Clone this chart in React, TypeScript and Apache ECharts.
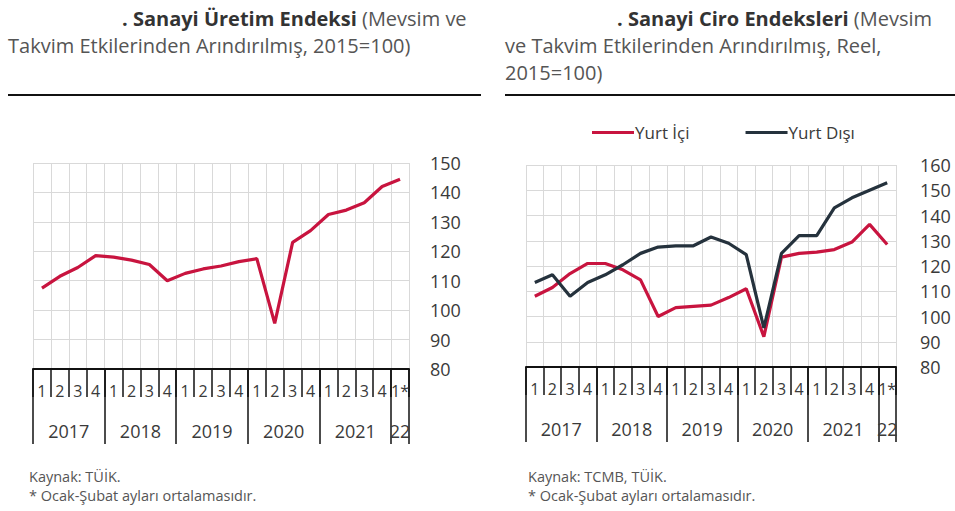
import React, { useEffect, useRef } from "react";
import * as echarts from "echarts";

const quarterLabels = [
  "1", "2", "3", "4",
  "1", "2", "3", "4",
  "1", "2", "3", "4",
  "1", "2", "3", "4",
  "1", "2", "3", "4",
  "1*",
];
const yearLabels = ["2017", "2018", "2019", "2020", "2021", "22"];
const quartersPerYear = [4, 4, 4, 4, 4, 1];

const sanayiUretim = [
  107.5, 111.5, 114.5, 118.5, 118, 117, 115.5, 110, 112.5, 114, 115, 116.5,
  117.5, 95.5, 123, 127, 132.5, 134, 136.5, 142, 144.5,
];
const yurtIci = [
  108, 111.5, 117, 121, 121, 118.5, 114.5, 100, 103.5, 104, 104.5, 107.5, 111,
  92, 123.5, 125, 125.5, 126.5, 129.5, 136.5, 128.5,
];
const yurtDisi = [
  113.5, 116.5, 108, 113.5, 116.5, 120.5, 125, 127.5, 128, 128, 131.5, 129,
  124.5, 95.5, 125, 132, 132, 143, 147, 150, 153,
];

const FONT = '"Open Sans", "Noto Sans", sans-serif';
const RED = "#c8143f";
const DARK = "#25323d";
const TEXT = "#3a3a3a";
const GRID = "#d9d9d9";

// year boundaries and centres derived from quarter counts
const yearBounds: number[] = [0];
quartersPerYear.forEach((q) => yearBounds.push(yearBounds[yearBounds.length - 1] + q));
const yearCentres = quartersPerYear.map((q, i) => yearBounds[i] + q / 2);

function makeAxes(gridIndex: number, yMin: number, yMax: number, labelMargin: number) {
  const xQuarter = {
    type: "category",
    gridIndex,
    data: quarterLabels,
    boundaryGap: true,
    position: "bottom",
    axisLine: { show: true, lineStyle: { color: "#111", width: 2 } },
    axisTick: { show: true, interval: 0, length: 28, lineStyle: { color: "#111", width: 1.5 } },
    axisLabel: { interval: 0, margin: 14, fontSize: 16, fontFamily: FONT, color: TEXT },
    splitLine: { show: true, interval: 0, lineStyle: { color: GRID, width: 1 } },
  };
  const xYear = {
    type: "value",
    gridIndex,
    min: 0,
    max: quarterLabels.length,
    position: "bottom",
    axisLine: { show: false },
    axisTick: {
      show: true,
      customValues: yearBounds,
      length: 75,
      lineStyle: { color: "#111", width: 1.5 },
    },
    axisLabel: {
      show: true,
      customValues: yearCentres,
      margin: 53,
      fontSize: 18,
      fontFamily: FONT,
      color: TEXT,
      formatter: (v: number) => {
        const idx = yearCentres.findIndex((c) => Math.abs(c - v) < 1e-6);
        return idx >= 0 ? yearLabels[idx] : "";
      },
    },
    splitLine: { show: false },
  };
  const y = {
    type: "value",
    gridIndex,
    position: "right",
    min: yMin,
    max: yMax,
    interval: 10,
    axisLine: { show: false },
    axisTick: { show: false },
    axisLabel: { margin: labelMargin, fontSize: 18, fontFamily: FONT, color: TEXT },
    splitLine: { show: true, lineStyle: { color: GRID, width: 1 } },
  };
  return { xQuarter, xYear, y };
}

export default function App() {
  const ref = useRef<HTMLDivElement>(null);
  useEffect(() => {
    if (!ref.current) return;
    const chart = echarts.init(ref.current, null, { renderer: "svg" });
    const a = makeAxes(0, 80, 150, 21);
    const b = makeAxes(1, 80, 160, 24);

    const titleText = (
      text: string,
      x: number,
      y: number,
      rich = true,
      size = 20
    ) => ({
      type: "text",
      x,
      y,
      style: {
        text,
        fill: "#555",
        fontSize: size,
        fontFamily: FONT,
        verticalAlign: "middle",
        rich: rich ? { b: { fontWeight: "bold", fill: "#333", fontSize: size, fontFamily: FONT } } : undefined,
      },
    });

    chart.setOption({
      animation: false,
      backgroundColor: "#fff",
      grid: [
        { left: 33, right: 546, top: 163, bottom: 142 },
        { left: 526, right: 59, top: 165, bottom: 144 },
      ],
      legend: {
        data: ["Yurt İçi", "Yurt Dışı"],
        left: 587,
        top: 119,
        icon: "rect",
        itemWidth: 42,
        itemHeight: 3,
        itemGap: 56,
        textStyle: { fontSize: 17, fontFamily: FONT, color: TEXT, padding: [0, 0, 0, -4] },
      },
      xAxis: [a.xQuarter, a.xYear, b.xQuarter, b.xYear],
      yAxis: [a.y, b.y],
      series: [
        {
          name: "Sanayi Üretim Endeksi",
          type: "line",
          xAxisIndex: 0,
          yAxisIndex: 0,
          data: sanayiUretim,
          symbol: "none",
          lineStyle: { color: RED, width: 3.2 },
          itemStyle: { color: RED },
        },
        {
          name: "Yurt İçi",
          type: "line",
          xAxisIndex: 2,
          yAxisIndex: 1,
          data: yurtIci,
          symbol: "none",
          lineStyle: { color: RED, width: 3.2 },
          itemStyle: { color: RED },
        },
        {
          name: "Yurt Dışı",
          type: "line",
          xAxisIndex: 2,
          yAxisIndex: 1,
          data: yurtDisi,
          symbol: "none",
          lineStyle: { color: DARK, width: 3.2 },
          itemStyle: { color: DARK },
        },
      ],
      graphic: [
        titleText("{b|. Sanayi Üretim Endeksi} (Mevsim ve", 122, 18),
        titleText("Takvim Etkilerinden Arındırılmış, 2015=100)", 8, 45, false),
        titleText("{b|. Sanayi Ciro Endeksleri} (Mevsim", 617, 18),
        titleText("ve Takvim Etkilerinden Arındırılmış, Reel,", 505, 45, false),
        titleText("2015=100)", 505, 72, false),
        { type: "line", shape: { x1: 8, y1: 95, x2: 481, y2: 95 }, style: { stroke: "#111", lineWidth: 2 } },
        { type: "line", shape: { x1: 505, y1: 95, x2: 955, y2: 95 }, style: { stroke: "#111", lineWidth: 2 } },
        titleText("Kaynak: TÜİK.", 29, 476, false, 14.5),
        titleText("* Ocak-Şubat ayları ortalamasıdır.", 29, 495, false, 14.5),
        titleText("Kaynak: TCMB, TÜİK.", 528, 476, false, 14.5),
        titleText("* Ocak-Şubat ayları ortalamasıdır.", 528, 495, false, 14.5),
      ],
    });
    return () => chart.dispose();
  }, []);
  return (
    <div
      ref={ref}
      style={{ position: "fixed", left: 0, top: 0, width: 955, height: 511, background: "#fff" }}
    />
  );
}
